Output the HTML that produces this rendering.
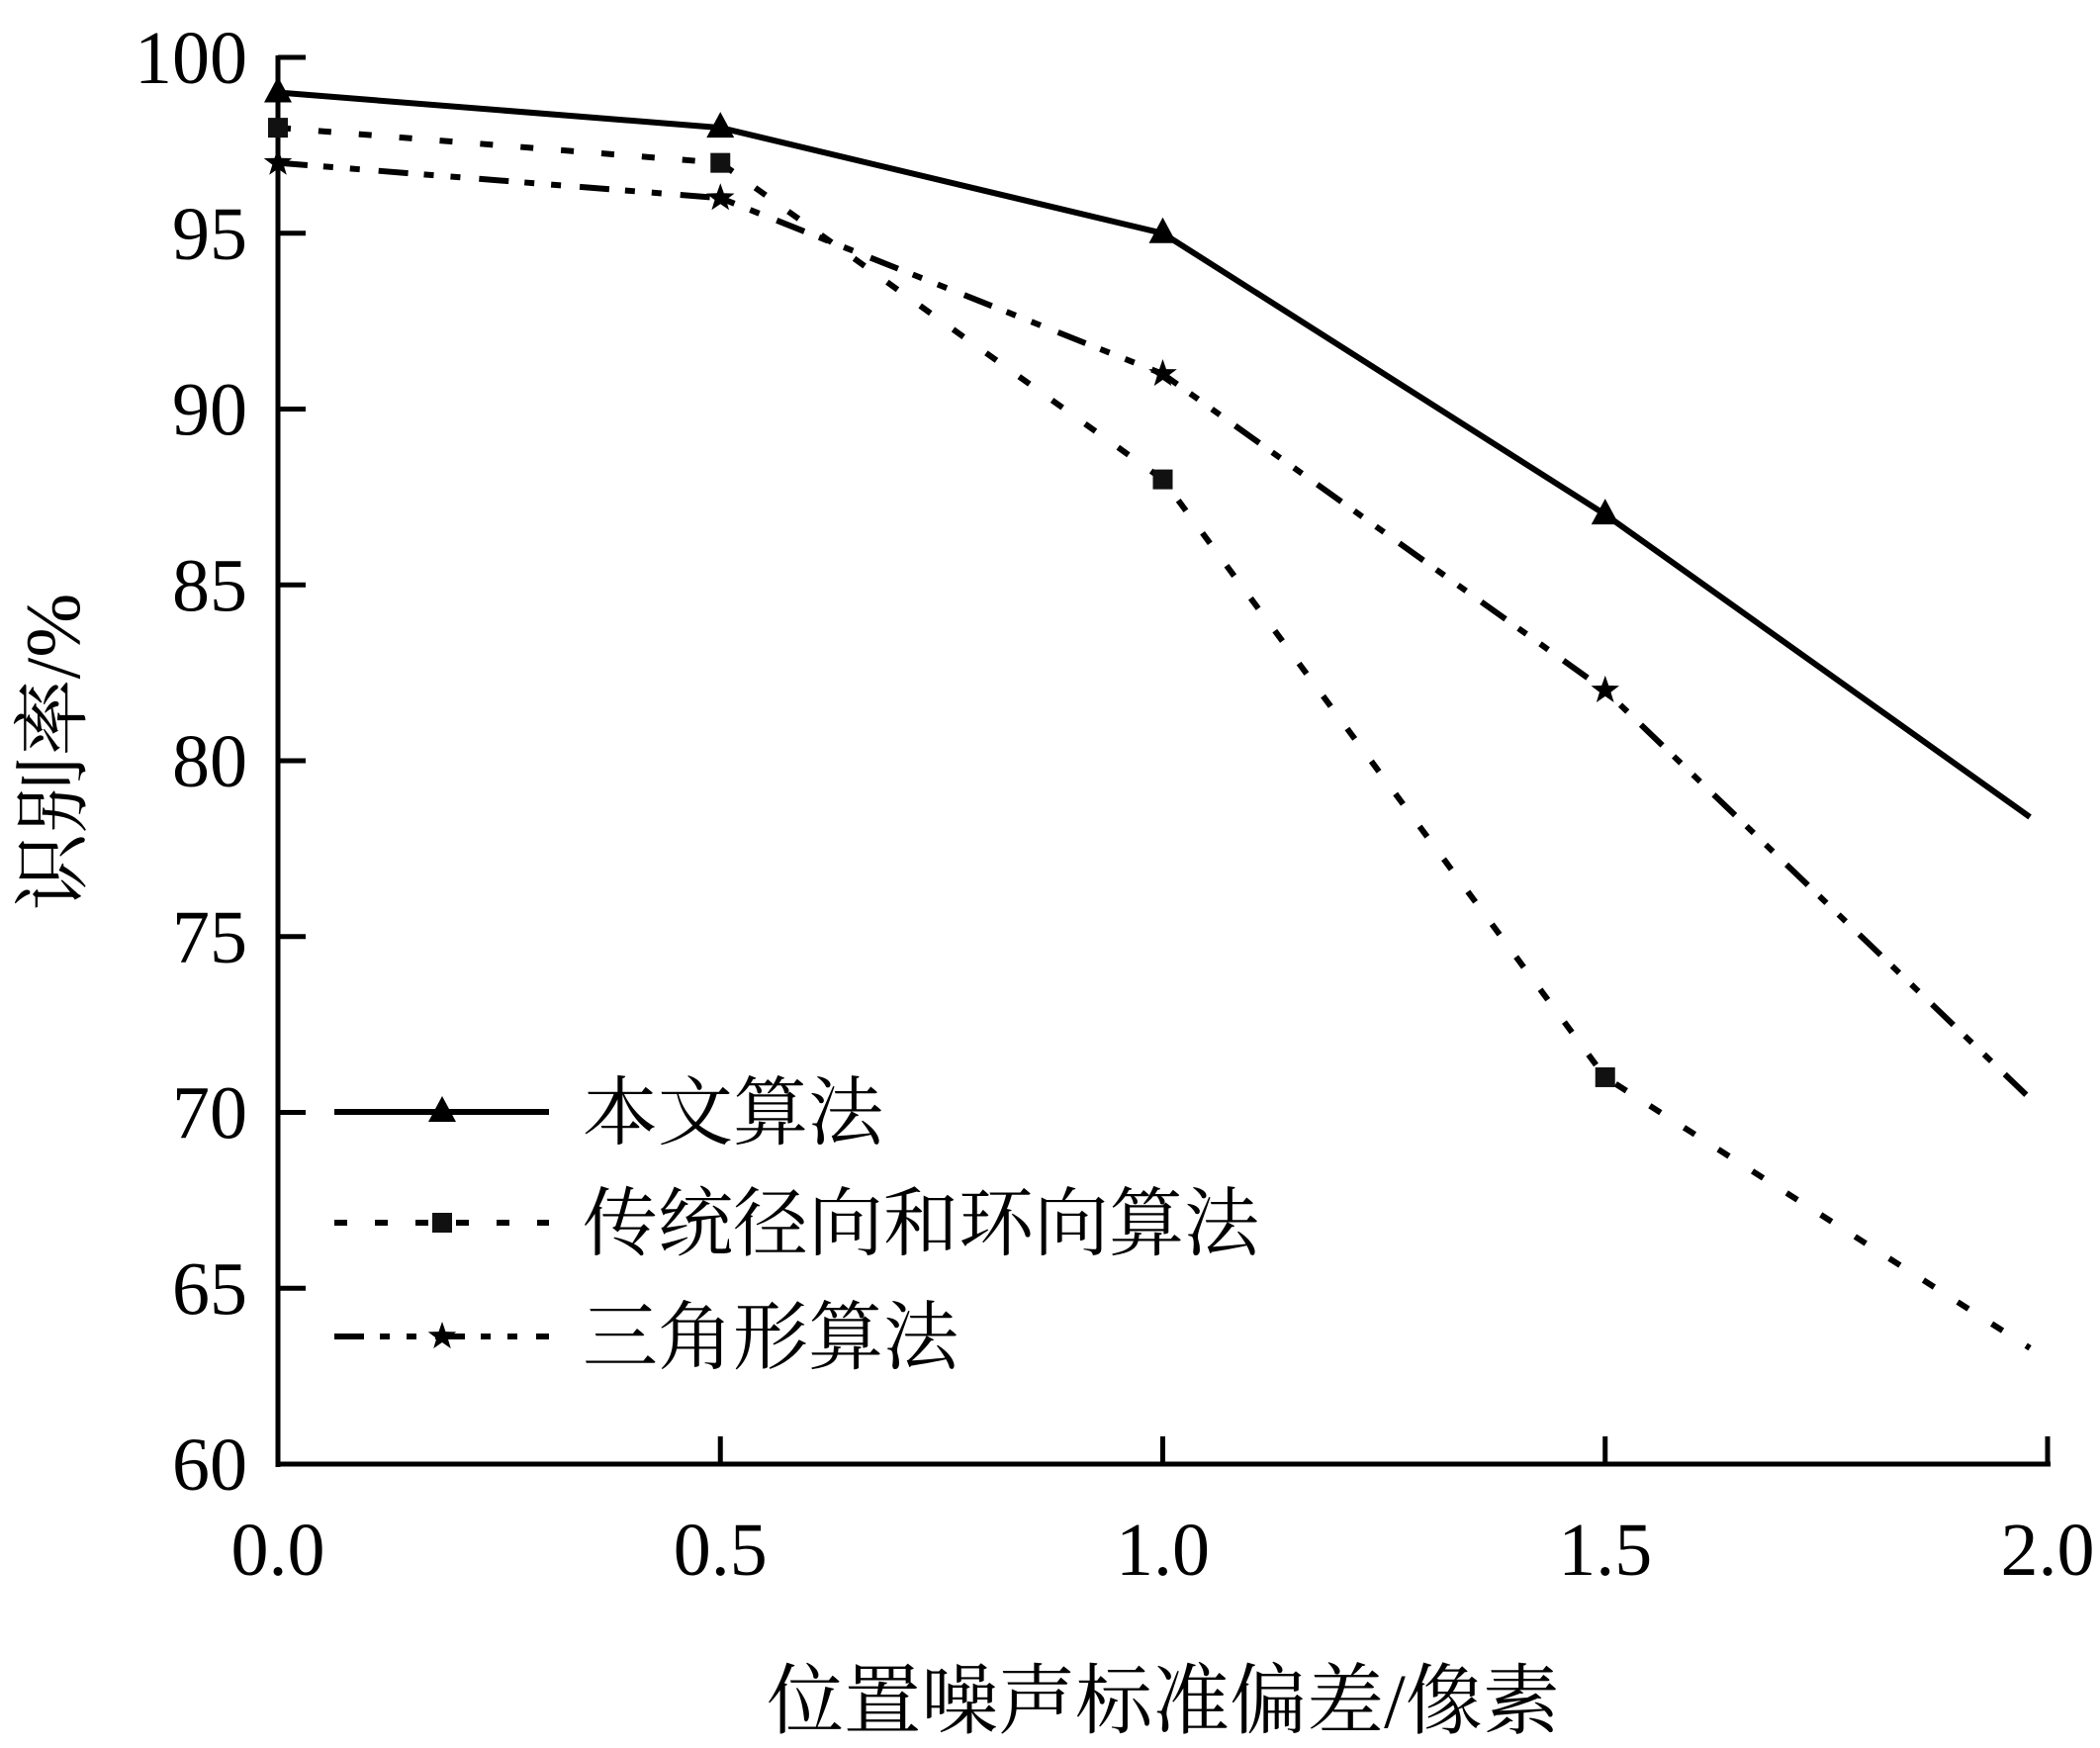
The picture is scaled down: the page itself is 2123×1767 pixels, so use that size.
<!DOCTYPE html>
<html><head><meta charset="utf-8"><style>
html,body{margin:0;padding:0;background:#fff;}
svg{display:block;}
text{font-family:"Liberation Serif","Noto Serif CJK SC","Noto Sans CJK SC",serif;fill:#000;}
</style></head><body>
<svg id="chart" width="2123" height="1767" viewBox="0 0 2123 1767" xmlns="http://www.w3.org/2000/svg">
<g id="axes"></g>
<g id="series"></g>
<g id="legend"></g>
</svg>
<script>
const xValues = [0, 0.5, 1.0, 1.5, 1.98];
const oursValues = [99, 98, 95, 87, 78.4];
const traditionalValues = [98, 97, 88, 71, 63.3];
const triangleValues = [97, 96, 91, 82, 70.4];
const xTicks = [0, 0.5, 1.0, 1.5, 2.0];
const xTickLabels = ["0.0", "0.5", "1.0", "1.5", "2.0"];
const yTicks = [60, 65, 70, 75, 80, 85, 90, 95, 100];
const seriesNames = ["本文算法", "传统径向和环向算法", "三角形算法"];

const NS = "http://www.w3.org/2000/svg";
const X0 = 281, X1 = 2070, Y0 = 1480, Y1 = 58;
function xs(v){ return X0 + (v - 0) / 2 * (X1 - X0); }
function ys(v){ return Y0 - (v - 60) / 40 * (Y0 - Y1); }
function mk(tag, attrs, parent){
  const e = document.createElementNS(NS, tag);
  for (const k in attrs) e.setAttribute(k, attrs[k]);
  parent.appendChild(e);
  return e;
}
const axes = document.getElementById('axes');
const series = document.getElementById('series');
const legend = document.getElementById('legend');

let yAxis = mk('line', {x1:X0, y1:Y1-2, x2:X0, y2:Y0+3, stroke:'#000','stroke-width':5}, axes);


let xAxis = mk('line', {x1:X0-2, y1:Y0, x2:X1+3, y2:Y0, stroke:'#000','stroke-width':5}, axes);



yTicks.forEach(t => {
  const y = ys(t);
  const tk = mk('line', {x1:X0, y1:y, x2:X0+28, y2:y, stroke:'#000','stroke-width':5}, axes);
  
  
  const lb = mk('text', {x:250, y:y+26, 'text-anchor':'end', 'font-size':76}, axes);
  lb.textContent = String(t);
  
  
});
xTicks.forEach((t, i) => {
  const x = xs(t);
  const tk = mk('line', {x1:x, y1:Y0, x2:x, y2:Y0-28, stroke:'#000','stroke-width':5}, axes);
  
  
  const lb = mk('text', {x:x, y:1592, 'text-anchor':'middle', 'font-size':76}, axes);
  lb.textContent = xTickLabels[i];
  
  
});
const xt = mk('text', {x:1176, y:1746, 'text-anchor':'middle', 'font-size':78}, axes);
xt.textContent = '位置噪声标准偏差/像素';


const yt = mk('text', {x:0, y:0, 'text-anchor':'middle', 'font-size':78, transform:'translate(80,760) rotate(-90)'}, axes);
yt.textContent = '识别率/%';



const styles = [
  {dash:'', marker:'tri'},
  {dash:'13 28', marker:'sq'},
  {dash:'30 16 10 17 10 19', marker:'star'}
];
function marker(type, x, y, parent){
  let e;
  if (type === 'tri') e = mk('polygon', {points:`${x},${y-16} ${x-14},${y+10} ${x+14},${y+10}`, fill:'#000'}, parent);
  else if (type === 'sq') e = mk('rect', {x:x-10, y:y-10, width:20, height:20, fill:'#111'}, parent);
  else {
    let pts = [];
    for (let k = 0; k < 10; k++) {
      const r = k % 2 ? 6 : 15, a = -Math.PI/2 + k*Math.PI/5;
      pts.push((x + r*Math.cos(a)).toFixed(1) + ',' + (y + r*Math.sin(a)).toFixed(1));
    }
    e = mk('polygon', {points:pts.join(' '), fill:'#000'}, parent);
  }
  return e;
}
const allValues = [oursValues, traditionalValues, triangleValues];
const seriesKeys = ['ours', 'traditional', 'triangle'];
allValues.forEach((vals, si) => {
  const g = mk('g', {}, series);
  
  
  const d = vals.map((v, i) => (i ? 'L' : 'M') + xs(xValues[i]).toFixed(1) + ' ' + ys(v).toFixed(1)).join(' ');
  const p = mk('path', {d:d, fill:'none', stroke:'#000', 'stroke-width':6}, g);
  if (styles[si].dash) p.setAttribute('stroke-dasharray', styles[si].dash);
  
  
  vals.forEach((v, i) => {
    if (i === vals.length - 1) return;
    const m = marker(styles[si].marker, xs(xValues[i]), ys(v), g);
    
    
  });
});

const legY = [1124, 1236, 1351];
seriesNames.forEach((name, i) => {
  const g = mk('g', {}, legend);
  
  
  const l = mk('line', {x1:338, y1:legY[i], x2:555, y2:legY[i], stroke:'#000','stroke-width':6}, g);
  if (styles[i].dash) l.setAttribute('stroke-dasharray', styles[i].dash);
  
  
  const m = marker(styles[i].marker, 447, legY[i], g);
  
  
  const t = mk('text', {x:589, y:legY[i]+27, 'font-size':76}, g);
  t.textContent = name;
  
  
});
</script>
</body></html>
